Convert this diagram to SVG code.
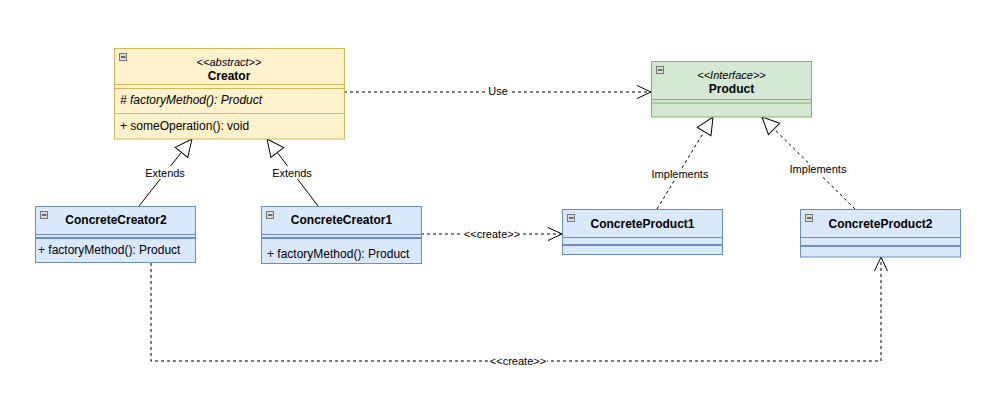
<svg xmlns="http://www.w3.org/2000/svg" width="1005" height="405" viewBox="0 0 1005 405">
<style>
text{font-family:"Liberation Sans",Arial,Helvetica,sans-serif;fill:#000}
.name{font-size:12px;font-weight:bold;text-anchor:middle}
.st{font-size:11px;font-style:italic;text-anchor:middle}
.mem{font-size:12px}
.lbl{font-size:11px;text-anchor:middle}
.yel{fill:#fff2cc;stroke:#d6b656}
.grn{fill:#d5e8d4;stroke:#82b366}
.blu{fill:#dae8fc;stroke:#6c8ebf}
.ly{stroke:#d6b656;fill:none}
.lg{stroke:#82b366;fill:none}
.lb{stroke:#6c8ebf;fill:none}
.lbt{stroke:#6c8ebf;stroke-width:2;fill:none}
.icon{fill:#dcdcdc;stroke:#777;stroke-width:1}
.conn{fill:none;stroke:#000;stroke-width:1}
.dash{stroke-dasharray:3 3}
.bg{fill:#fff}
</style>
<defs>
<marker id="tri" markerUnits="userSpaceOnUse" markerWidth="20" markerHeight="18" refX="17" refY="8" orient="auto" overflow="visible">
<path d="M0,0 L17,8 L0,16 Z" fill="#fff" stroke="#000" stroke-width="1"/>
</marker>
<marker id="open" markerUnits="userSpaceOnUse" markerWidth="16" markerHeight="15" refX="14" refY="6.5" orient="auto" overflow="visible">
<path d="M0,0 L14,6.5 L0,13" fill="none" stroke="#000" stroke-width="1"/>
</marker>
<g id="minus">
<rect class="icon" x="0.5" y="0.5" width="7" height="7"/>
<path d="M2,4 H6.5" stroke="#000" stroke-width="1"/>
</g>
</defs>
<rect width="1005" height="405" fill="#fff"/>

<g id="connectors">
<path class="conn dash" d="M344,92 H651" marker-end="url(#open)"/>
<path class="conn" d="M139,206 L192,139" marker-end="url(#tri)"/>
<path class="conn" d="M318,206 L267,139" marker-end="url(#tri)"/>
<path class="conn dash" d="M657,209 L713,117" marker-end="url(#tri)"/>
<path class="conn dash" d="M855,209 L762,117" marker-end="url(#tri)"/>
<path class="conn dash" d="M421,234 H562" marker-end="url(#open)"/>
<path class="conn dash" d="M151,263 V361 H881 V257" marker-end="url(#open)"/>
<rect class="bg" x="486" y="85" width="24" height="13"/>
<text class="lbl" x="498" y="95">Use</text>
<rect class="bg" x="145" y="166" width="40" height="13"/>
<text class="lbl" x="165" y="176.5">Extends</text>
<rect class="bg" x="272" y="166" width="40" height="13"/>
<text class="lbl" x="292" y="176.5">Extends</text>
<rect class="bg" x="651" y="168" width="58" height="13"/>
<text class="lbl" x="680" y="178">Implements</text>
<rect class="bg" x="789" y="163" width="58" height="13"/>
<text class="lbl" x="818" y="173">Implements</text>
<rect class="bg" x="463" y="228" width="58" height="12"/>
<text class="lbl" x="492" y="238">&lt;&lt;create&gt;&gt;</text>
<rect class="bg" x="489" y="355" width="58" height="12"/>
<text class="lbl" x="518" y="365">&lt;&lt;create&gt;&gt;</text>
</g>

<g id="Creator">
<rect class="yel" x="114.5" y="48.5" width="230" height="90.5"/>
<path class="ly" d="M114.5,84.5 H344.5 M114.5,88.5 H344.5 M114.5,113.5 H344.5"/>
<use href="#minus" x="119" y="53"/>
<text class="st" x="229" y="66">&lt;&lt;abstract&gt;&gt;</text>
<text class="name" x="229" y="80">Creator</text>
<text class="mem" x="120" y="104" font-style="italic"># factoryMethod(): Product</text>
<text class="mem" x="120" y="130">+ someOperation(): void</text>
</g>

<g id="Product">
<rect class="grn" x="651.5" y="61.5" width="160" height="55.5"/>
<path class="lg" d="M651.5,99.5 H811.5 M651.5,103 H811.5"/>
<use href="#minus" x="656" y="66"/>
<text class="st" x="731.5" y="79">&lt;&lt;Interface&gt;&gt;</text>
<text class="name" x="731.5" y="93">Product</text>
</g>

<g id="ConcreteCreator2">
<rect class="blu" x="35.5" y="206.5" width="160" height="56"/>
<path class="lb" d="M35.5,234.5 H195.5"/>
<path class="lbt" d="M35.5,238 H195.5"/>
<use href="#minus" x="40" y="211"/>
<text class="name" x="116" y="224">ConcreteCreator2</text>
<text class="mem" x="38" y="254">+ factoryMethod(): Product</text>
</g>

<g id="ConcreteCreator1">
<rect class="blu" x="261.5" y="206.5" width="160" height="57"/>
<path class="lb" d="M261.5,234.5 H421.5"/>
<path class="lbt" d="M261.5,238 H421.5"/>
<use href="#minus" x="266" y="211"/>
<text class="name" x="341.5" y="223.5">ConcreteCreator1</text>
<text class="mem" x="267" y="258">+ factoryMethod(): Product</text>
</g>

<g id="ConcreteProduct1">
<rect class="blu" x="562.5" y="209.5" width="160" height="45"/>
<path class="lb" d="M562.5,237.5 H722.5"/>
<path class="lbt" d="M562.5,245 H722.5"/>
<use href="#minus" x="567" y="214"/>
<text class="name" x="642.5" y="228">ConcreteProduct1</text>
</g>

<g id="ConcreteProduct2">
<rect class="blu" x="800.5" y="209.5" width="160" height="47.5"/>
<path class="lb" d="M800.5,237.5 H960.5"/>
<path class="lbt" d="M800.5,246 H960.5"/>
<use href="#minus" x="805" y="214"/>
<text class="name" x="880.5" y="228">ConcreteProduct2</text>
</g>
</svg>
